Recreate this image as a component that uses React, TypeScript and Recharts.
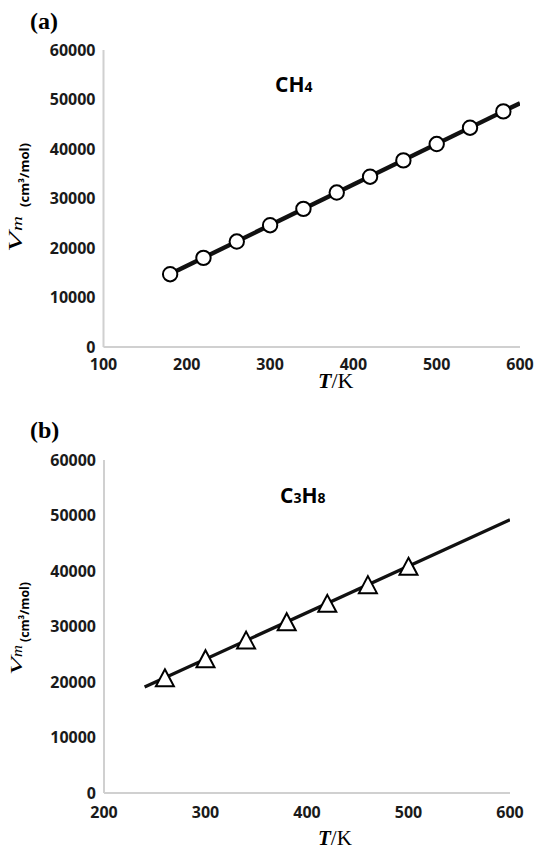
import React from 'react';
import { ComposedChart, Line, XAxis, YAxis } from 'recharts';

// Panel (a): CH4
const ch4Temps = [180, 220, 260, 300, 340, 380, 420, 460, 500, 540, 580];
const ch4Volumes = [14700, 18000, 21300, 24600, 27900, 31200, 34400, 37700, 41000, 44300, 47600];
const ch4TrendTemps = [180, 600];
const ch4TrendVolumes = [14750, 49250];

// Panel (b): C3H8
const c3h8Temps = [260, 300, 340, 380, 420, 460, 500];
const c3h8Volumes = [20750, 24200, 27550, 30870, 34170, 37540, 40850];
const c3h8TrendTemps = [240, 600];
const c3h8TrendVolumes = [19100, 49250];

const yTicks = [0, 10000, 20000, 30000, 40000, 50000, 60000];
const xTicksA = [100, 200, 300, 400, 500, 600];
const xTicksB = [200, 300, 400, 500, 600];

const zip = (ts: number[], vs: number[]) => ts.map((t, i) => ({ t, v: vs[i] }));

const ch4Points = zip(ch4Temps, ch4Volumes);
const ch4Trend = zip(ch4TrendTemps, ch4TrendVolumes);
const c3h8Points = zip(c3h8Temps, c3h8Volumes);
const c3h8Trend = zip(c3h8TrendTemps, c3h8TrendVolumes);

const tickStyle = { fontFamily: '"Open Sans", sans-serif', fontWeight: 700, fontSize: 16, fill: '#1a1a1a' };
const axisLine = { stroke: '#d0d0d0', strokeWidth: 2 };

const CircleDot = (p: any) => (
  <circle key={`c${p.index}`} cx={p.cx} cy={p.cy} r={7.2} fill="#fff" stroke="#000" strokeWidth={2} />
);
const TriDot = (p: any) => {
  const { cx, cy } = p;
  const pts = `${cx},${cy - 8.5} ${cx + 9},${cy + 8.5} ${cx - 9},${cy + 8.5}`;
  return <polygon key={`t${p.index}`} points={pts} fill="#fff" stroke="#000" strokeWidth={2} strokeLinejoin="miter" />;
};

const serif = '"Liberation Serif", "Times New Roman", serif';
const sans = '"Open Sans", sans-serif';

export default function App() {
  return (
    <div style={{ position: 'absolute', left: 0, top: 0, width: 536, height: 849, background: '#fff' }}>
      <div style={{ position: 'absolute', left: 0, top: 0 }}>
        <ComposedChart width={536} height={400} margin={{ top: 50, right: 16, bottom: 23, left: 0 }}>
          <XAxis
            type="number"
            dataKey="t"
            domain={[100, 600]}
            ticks={xTicksA}
            allowDataOverflow
            height={30}
            tickLine={false}
            tickSize={6}
            tickMargin={6}
            axisLine={axisLine}
            tick={tickStyle}
          />
          <YAxis
            type="number"
            dataKey="v"
            domain={[0, 60000]}
            ticks={yTicks}
            width={103.5}
            tickLine={false}
            axisLine={axisLine}
            tick={tickStyle}
          />
          <Line data={ch4Trend} dataKey="v" stroke="#111" strokeWidth={4.4} dot={false} isAnimationActive={false} />
          <Line data={ch4Points} dataKey="v" stroke="none" dot={CircleDot} activeDot={false} isAnimationActive={false} />
        </ComposedChart>
      </div>
      <div style={{ position: 'absolute', left: 0, top: 410 }}>
        <ComposedChart width={536} height={439} margin={{ top: 50, right: 26, bottom: 26, left: 0 }}>
          <XAxis
            type="number"
            dataKey="t"
            domain={[200, 600]}
            ticks={xTicksB}
            allowDataOverflow
            height={30}
            tickLine={false}
            tickSize={6}
            tickMargin={8}
            axisLine={axisLine}
            tick={tickStyle}
          />
          <YAxis
            type="number"
            dataKey="v"
            domain={[0, 60000]}
            ticks={yTicks}
            width={104}
            tickLine={false}
            axisLine={axisLine}
            tick={tickStyle}
          />
          <Line data={c3h8Trend} dataKey="v" stroke="#111" strokeWidth={3.3} dot={false} isAnimationActive={false} />
          <Line data={c3h8Points} dataKey="v" stroke="none" dot={TriDot} activeDot={false} isAnimationActive={false} />
        </ComposedChart>
      </div>
      <svg width={536} height={849} style={{ position: 'absolute', left: 0, top: 0, pointerEvents: 'none' }}>
        {/* Panel (a) */}
        <text x={30} y={29} fontFamily={serif} fontWeight={700} fontSize={24} fill="#000">(a)</text>
        <text x={275} y={92} fontFamily={sans} fontWeight={700} fontSize={21} fill="#000">
          CH<tspan fontSize={14}>4</tspan>
        </text>
        <g transform="translate(22,252) rotate(-90)">
          <text x={0} y={0} fontFamily={serif} fontStyle="italic" fontSize={18} textLength={20} lengthAdjust="spacingAndGlyphs" fill="#000">V</text>
          <text x={21} y={0} fontFamily={serif} fontStyle="italic" fontSize={15} textLength={15} lengthAdjust="spacingAndGlyphs" fill="#000">m</text>
          <text x={45} y={7} fontFamily={sans} fontWeight={700} fontSize={12.5} textLength={64} lengthAdjust="spacingAndGlyphs" fill="#000">(cm³/mol)</text>
        </g>
        <text x={318} y={388} fontFamily={serif} fontSize={22} fill="#000">
          <tspan fontWeight={700} fontStyle="italic">T</tspan>/K
        </text>

        {/* Panel (b) */}
        <text x={30} y={438} fontFamily={serif} fontWeight={700} fontSize={24} fill="#000">(b)</text>
        <text x={280} y={503} fontFamily={sans} fontWeight={700} fontSize={21} fill="#000">
          C<tspan fontSize={14}>3</tspan>H<tspan fontSize={14}>8</tspan>
        </text>
        <g transform="translate(22,675) rotate(-90)">
          <text x={0} y={0} fontFamily={serif} fontStyle="italic" fontSize={17} textLength={18} lengthAdjust="spacingAndGlyphs" fill="#000">V</text>
          <text x={18} y={0} fontFamily={serif} fontStyle="italic" fontSize={14} textLength={12} lengthAdjust="spacingAndGlyphs" fill="#000">m</text>
          <text x={33} y={7} fontFamily={sans} fontWeight={700} fontSize={12.5} textLength={60} lengthAdjust="spacingAndGlyphs" fill="#000">(cm³/mol)</text>
        </g>
        <text x={318} y={845} fontFamily={serif} fontSize={21} fill="#000">
          <tspan fontWeight={700} fontStyle="italic">T</tspan>/K
        </text>
      </svg>
    </div>
  );
}
